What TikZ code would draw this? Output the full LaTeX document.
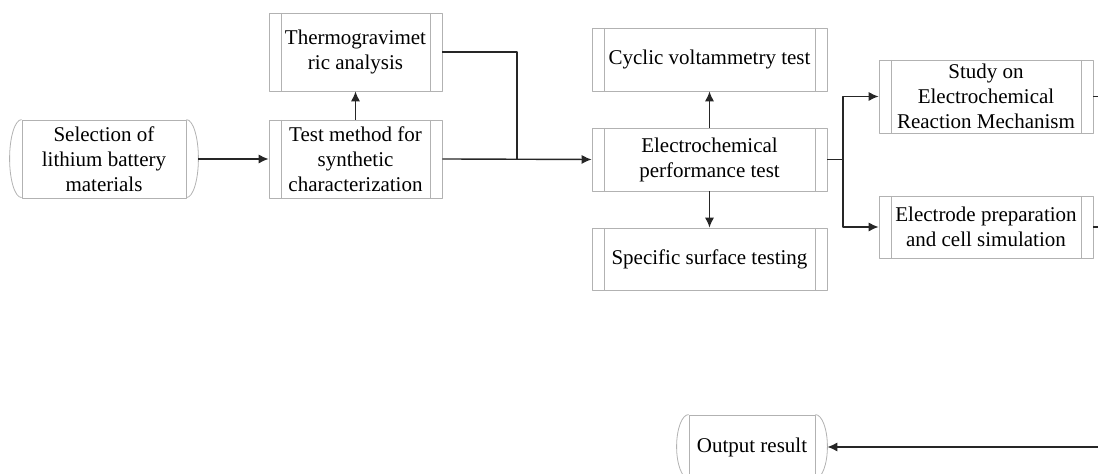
\documentclass[tikz,border=0pt]{standalone}
\usepackage{fontspec}
\setmainfont{Liberation Serif}
\usetikzlibrary{arrows.meta}
\begin{document}
\begin{tikzpicture}[x=0.5pt, y=0.5pt, font=\fontsize{10.5}{12.5}\selectfont, line join=round, >={Latex[length=5pt,width=4.6pt]},
	boxline/.style={draw=gray!60, line width=0.4pt},
	proc/.style={boxline, rectangle, align=center, inner sep=0pt,
		path picture={\draw[boxline] ([xshift=6pt]path picture bounding box.north west)--([xshift=6pt]path picture bounding box.south west)
			([xshift=-6pt]path picture bounding box.north east)--([xshift=-6pt]path picture bounding box.south east);}},
	term/.style={boxline, rectangle, align=center, inner sep=0pt},
	link/.style={draw=black!85, line width=0.7pt}]
	\useasboundingbox (0,0) rectangle (1098,474);
	\clip (0,0) rectangle (1098,474);
	% boxes
	\node[term, minimum width=82pt, minimum height=39pt] (sel) at (104,315) {Selection of\\lithium battery\\materials};
	\node[proc, minimum width=86.5pt, minimum height=39pt] (thermo) at (355.5,422) {Thermogravimet\\ric analysis};
	\node[proc, minimum width=86.5pt, minimum height=39pt] (test) at (355.5,315) {Test method for\\synthetic\\characterization};
	\node[proc, minimum width=117.5pt, minimum height=31.5pt] (cyc) at (709.5,414.5) {Cyclic voltammetry test};
	\node[proc, minimum width=117.5pt, minimum height=31.5pt] (elec) at (709.5,314.5) {Electrochemical\\performance test};
	\node[proc, minimum width=117.5pt, minimum height=31pt] (spec) at (709.5,215) {Specific surface testing};
	\node[proc, minimum width=107pt, minimum height=36.5pt] (study) at (986,377.5) {Study on\\Electrochemical\\Reaction Mechanism};
	\node[proc, minimum width=107pt, minimum height=31pt] (electrode) at (986,247) {Electrode preparation\\and cell simulation};
	\node[term, minimum width=63pt, minimum height=32pt] (out) at (752,27) {Output result};
	\foreach \n/\r in {sel/19.5pt,out/16pt}{
		\draw[boxline] (\n.north west) arc[start angle=90, end angle=270, x radius=6pt, y radius=\r];
		\draw[boxline] (\n.north east) arc[start angle=90, end angle=-90, x radius=6pt, y radius=\r];
	}
	% connectors
	\coordinate (join) at (517,315);
	\coordinate (fork) at (843,314.5);
	\coordinate (studyout) at (1098,377.5);
	\coordinate (electrodeout) at (1098,247);
	\coordinate (back) at (1098,27);
	\draw[link,->] ([xshift=6pt]sel.east)--(test.west);
	\draw[link,->] (test.north)--(thermo.south);
	\draw[link] (thermo.east)-|(join);
	\draw[link,->] (test.east)--(elec.west);
	\draw[link,->] (elec.north)--(cyc.south);
	\draw[link,->] (elec.south)--(spec.north);
	\draw[link] (elec.east)--(fork);
	\draw[link,->] (fork)|-(study.west);
	\draw[link,->] (fork)|-(electrode.west);
	\draw[link] (study.east)--(studyout);
	\draw[link] (electrode.east)--(electrodeout);
	\draw[link,->] (back)--([xshift=6pt]out.east);
\end{tikzpicture}
\end{document}
